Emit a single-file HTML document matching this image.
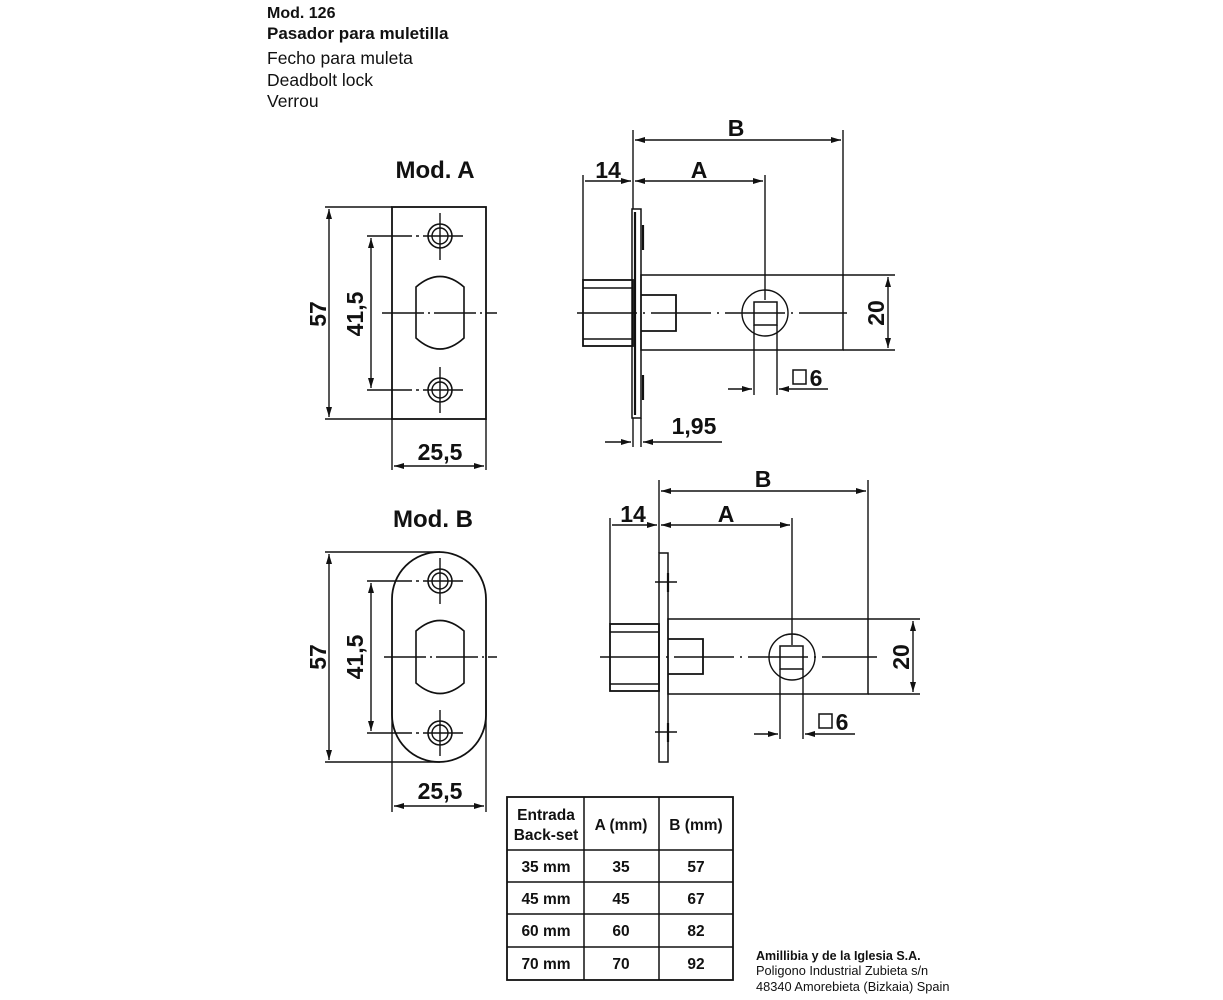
<!DOCTYPE html>
<html><head><meta charset="utf-8"><style>
html,body{margin:0;padding:0;background:#fff;}
svg{display:block;}
text{font-family:"Liberation Sans",Arial,sans-serif;fill:#111;}
.b{font-weight:bold;}
</style></head><body>
<svg width="1223" height="1000" viewBox="0 0 1223 1000" xmlns="http://www.w3.org/2000/svg">
<defs>
<marker id="a" viewBox="0 0 10 6" refX="10" refY="3" markerWidth="11" markerHeight="6" markerUnits="userSpaceOnUse" orient="auto-start-reverse"><path d="M0,0 L10,3 L0,6 z" fill="#111"/></marker>
</defs>
<!-- header -->
<text x="267" y="18" font-size="16" class="b">Mod. 126</text>
<text x="267" y="39" font-size="17" class="b">Pasador para muletilla</text>
<text x="267" y="64" font-size="17.5">Fecho para muleta</text>
<text x="267" y="86" font-size="17.5">Deadbolt lock</text>
<text x="267" y="107" font-size="17.5">Verrou</text>
<text x="435" y="178" font-size="24" class="b" text-anchor="middle">Mod. A</text>
<text x="433" y="527" font-size="24" class="b" text-anchor="middle">Mod. B</text>

<g stroke="#111" fill="none" stroke-width="1.4">
<!-- MOD A FRONT -->
<rect x="392" y="207" width="94" height="212" stroke-width="1.8"/>
<line x1="325" y1="207" x2="392" y2="207"/>
<line x1="325" y1="419" x2="392" y2="419"/>
<line x1="329" y1="209" x2="329" y2="417" marker-start="url(#a)" marker-end="url(#a)"/>
<line x1="367" y1="236" x2="463" y2="236" stroke-dasharray="45,4,3,4"/>
<line x1="367" y1="390" x2="463" y2="390" stroke-dasharray="45,4,3,4"/>
<line x1="371" y1="238" x2="371" y2="388" marker-start="url(#a)" marker-end="url(#a)"/>
<g><circle cx="440" cy="236" r="12" stroke-width="1.6"/><circle cx="440" cy="236" r="8"/><line x1="440" y1="213" x2="440" y2="260"/></g>
<g><circle cx="440" cy="390" r="12" stroke-width="1.6"/><circle cx="440" cy="390" r="8"/><line x1="440" y1="367" x2="440" y2="413"/></g>
<path d="M416,287 Q440,266 464,287 L464,338 Q440,360 416,338 Z" stroke-width="1.6"/>
<line x1="382" y1="313" x2="497" y2="313" stroke-dasharray="42,4,2,4"/>
<line x1="392" y1="419" x2="392" y2="470"/>
<line x1="486" y1="419" x2="486" y2="470"/>
<line x1="394" y1="466" x2="484" y2="466" marker-start="url(#a)" marker-end="url(#a)"/>

<!-- MOD A SIDE -->
<line x1="633" y1="130" x2="633" y2="209"/>
<line x1="843" y1="130" x2="843" y2="275"/>
<line x1="635" y1="140" x2="841" y2="140" marker-start="url(#a)" marker-end="url(#a)"/>
<line x1="583" y1="175" x2="583" y2="280"/>
<line x1="585" y1="181" x2="631" y2="181" marker-end="url(#a)"/>
<line x1="635" y1="181" x2="763" y2="181" marker-start="url(#a)" marker-end="url(#a)"/>
<line x1="765" y1="175" x2="765" y2="300"/>
<rect x="632" y="209" width="9" height="209" stroke-width="1.5"/>
<line x1="635" y1="212" x2="635" y2="415" stroke-width="2.2"/>
<line x1="643" y1="225" x2="643" y2="250" stroke-width="2.2"/>
<line x1="643" y1="375" x2="643" y2="400" stroke-width="2.2"/>
<rect x="641" y="275" width="202" height="75" stroke-width="1.5"/>
<rect x="583" y="280" width="50" height="66" stroke-width="1.8"/>
<line x1="583" y1="288" x2="633" y2="288"/>
<line x1="583" y1="339" x2="633" y2="339"/>
<path d="M641,295 H676 V331 H641" stroke-width="1.8"/>
<circle cx="765" cy="313" r="23"/>
<rect x="754" y="302" width="23" height="23" stroke-width="1.5"/>
<line x1="577" y1="313" x2="847" y2="313" stroke-dasharray="60,6,2,6"/>
<line x1="843" y1="275" x2="895" y2="275"/>
<line x1="843" y1="350" x2="895" y2="350"/>
<line x1="888" y1="277" x2="888" y2="348" marker-start="url(#a)" marker-end="url(#a)"/>
<line x1="754" y1="325" x2="754" y2="395"/>
<line x1="777" y1="325" x2="777" y2="395"/>
<line x1="728" y1="389" x2="752" y2="389" marker-end="url(#a)"/>
<line x1="828" y1="389" x2="779" y2="389" marker-end="url(#a)"/>
<line x1="633" y1="418" x2="633" y2="447"/>
<line x1="641" y1="418" x2="641" y2="447"/>
<line x1="605" y1="442" x2="631" y2="442" marker-end="url(#a)"/>
<line x1="722" y1="442" x2="643" y2="442" marker-end="url(#a)"/>

<!-- MOD B FRONT -->
<rect x="392" y="552" width="94" height="210" rx="47" ry="47" stroke-width="1.8"/>
<line x1="325" y1="552" x2="440" y2="552"/>
<line x1="325" y1="762" x2="440" y2="762"/>
<line x1="329" y1="554" x2="329" y2="760" marker-start="url(#a)" marker-end="url(#a)"/>
<line x1="367" y1="581" x2="463" y2="581" stroke-dasharray="45,4,3,4"/>
<line x1="367" y1="733" x2="463" y2="733" stroke-dasharray="45,4,3,4"/>
<line x1="371" y1="583" x2="371" y2="731" marker-start="url(#a)" marker-end="url(#a)"/>
<g><circle cx="440" cy="581" r="12" stroke-width="1.6"/><circle cx="440" cy="581" r="8"/><line x1="440" y1="558" x2="440" y2="604"/></g>
<g><circle cx="440" cy="733" r="12" stroke-width="1.6"/><circle cx="440" cy="733" r="8"/><line x1="440" y1="710" x2="440" y2="756"/></g>
<path d="M416,631 Q440,610 464,631 L464,683 Q440,704 416,683 Z" stroke-width="1.6"/>
<line x1="384" y1="657" x2="497" y2="657" stroke-dasharray="42,4,2,4"/>
<line x1="392" y1="700" x2="392" y2="812"/>
<line x1="486" y1="700" x2="486" y2="812"/>
<line x1="394" y1="806" x2="484" y2="806" marker-start="url(#a)" marker-end="url(#a)"/>

<!-- MOD B SIDE -->
<line x1="659" y1="480" x2="659" y2="553"/>
<line x1="868" y1="480" x2="868" y2="619"/>
<line x1="661" y1="491" x2="866" y2="491" marker-start="url(#a)" marker-end="url(#a)"/>
<line x1="610" y1="518" x2="610" y2="624"/>
<line x1="612" y1="525" x2="657" y2="525" marker-end="url(#a)"/>
<line x1="661" y1="525" x2="790" y2="525" marker-start="url(#a)" marker-end="url(#a)"/>
<line x1="792" y1="518" x2="792" y2="645"/>
<rect x="659" y="553" width="9" height="209" stroke-width="1.5"/>
<line x1="655" y1="582" x2="677" y2="582"/>
<line x1="668" y1="573" x2="668" y2="592" stroke-width="2.2"/>
<line x1="655" y1="732" x2="677" y2="732"/>
<line x1="668" y1="723" x2="668" y2="742" stroke-width="2.2"/>
<rect x="668" y="619" width="200" height="75" stroke-width="1.5"/>
<rect x="610" y="624" width="49" height="67" stroke-width="1.8"/>
<line x1="610" y1="632" x2="659" y2="632"/>
<line x1="610" y1="684" x2="659" y2="684"/>
<path d="M668,639 H703 V674 H668" stroke-width="1.8"/>
<circle cx="792" cy="657" r="23"/>
<rect x="780" y="646" width="23" height="23" stroke-width="1.5"/>
<line x1="600" y1="657" x2="877" y2="657" stroke-dasharray="60,6,2,6"/>
<line x1="868" y1="619" x2="920" y2="619"/>
<line x1="868" y1="694" x2="920" y2="694"/>
<line x1="913" y1="621" x2="913" y2="692" marker-start="url(#a)" marker-end="url(#a)"/>
<line x1="780" y1="669" x2="780" y2="739"/>
<line x1="803" y1="669" x2="803" y2="739"/>
<line x1="754" y1="734" x2="778" y2="734" marker-end="url(#a)"/>
<line x1="855" y1="734" x2="805" y2="734" marker-end="url(#a)"/>

<!-- square symbols -->
<rect x="793" y="370" width="13" height="14" stroke-width="1.5"/>
<rect x="819" y="714" width="13" height="14" stroke-width="1.5"/>

<!-- TABLE -->
<rect x="507" y="797" width="226" height="183" stroke-width="1.8"/>
<line x1="584" y1="797" x2="584" y2="980" stroke-width="1.5"/>
<line x1="659" y1="797" x2="659" y2="980" stroke-width="1.5"/>
<line x1="507" y1="850" x2="733" y2="850" stroke-width="1.5"/>
<line x1="507" y1="882" x2="733" y2="882" stroke-width="1.5"/>
<line x1="507" y1="914" x2="733" y2="914" stroke-width="1.5"/>
<line x1="507" y1="947" x2="733" y2="947" stroke-width="1.5"/>
</g>

<!-- dimension labels -->
<g class="b" font-size="23" text-anchor="middle">
<text x="440" y="460">25,5</text>
<text x="440" y="799">25,5</text>
<text transform="translate(326,314) rotate(-90)">57</text>
<text transform="translate(363,314) rotate(-90)">41,5</text>
<text transform="translate(326,657) rotate(-90)">57</text>
<text transform="translate(363,657) rotate(-90)">41,5</text>
<text x="736" y="136">B</text>
<text x="608" y="178">14</text>
<text x="699" y="178">A</text>
<text transform="translate(884,313) rotate(-90)">20</text>
<text x="816" y="386">6</text>
<text x="694" y="434">1,95</text>
<text x="763" y="487">B</text>
<text x="633" y="522">14</text>
<text x="726" y="522">A</text>
<text transform="translate(909,657) rotate(-90)">20</text>
<text x="842" y="730">6</text>
</g>

<g class="b" font-size="15.5" text-anchor="middle">
<text x="546" y="820">Entrada</text>
<text x="546" y="840">Back-set</text>
<text x="621" y="830">A (mm)</text>
<text x="696" y="830">B (mm)</text>
<text x="546" y="872">35 mm</text><text x="621" y="872">35</text><text x="696" y="872">57</text>
<text x="546" y="904">45 mm</text><text x="621" y="904">45</text><text x="696" y="904">67</text>
<text x="546" y="936">60 mm</text><text x="621" y="936">60</text><text x="696" y="936">82</text>
<text x="546" y="969">70 mm</text><text x="621" y="969">70</text><text x="696" y="969">92</text>
</g>
<text x="756" y="960" font-size="12.5" class="b">Amillibia y de la Iglesia S.A.</text>
<text x="756" y="975" font-size="12.8">Poligono Industrial Zubieta s/n</text>
<text x="756" y="991" font-size="12.8">48340 Amorebieta (Bizkaia) Spain</text>
</svg>
</body></html>
